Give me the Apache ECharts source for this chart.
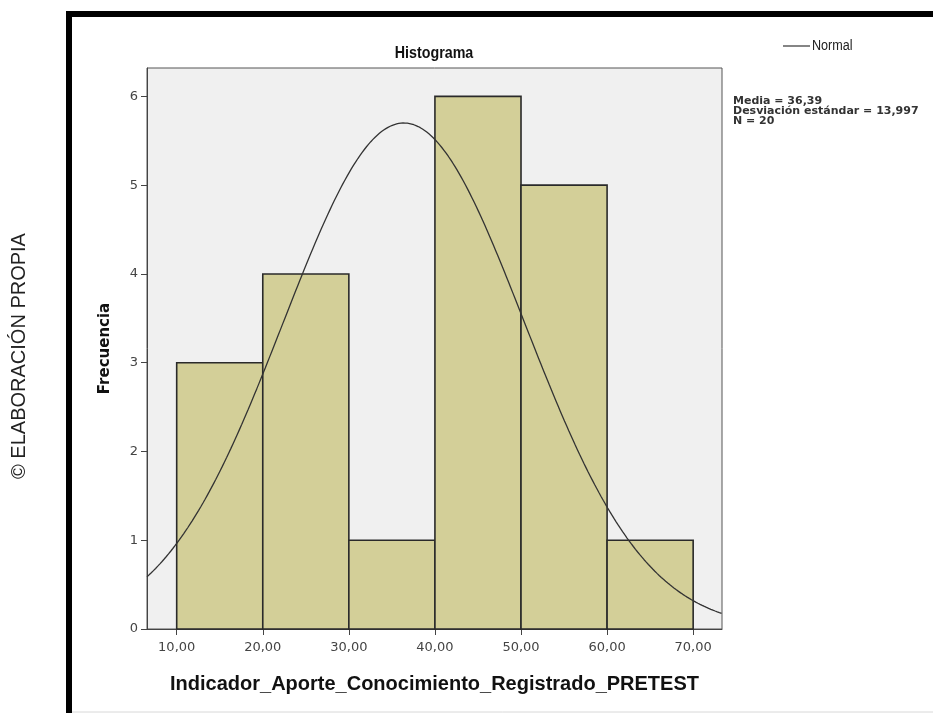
<!DOCTYPE html>
<html>
<head>
<meta charset="utf-8">
<script src="https://cdn.jsdelivr.net/npm/echarts@6/dist/echarts.min.js"></script>
<style>
  html, body { margin: 0; padding: 0; background: #ffffff; }
  #chart { width: 933px; height: 713px; }
</style>
</head>
<body>
<div id="chart"></div>
<script>
// Histogram bins (lower/upper edges) and their frequencies
const binStarts = [10, 20, 30, 40, 50, 60];
const binEnds   = [20, 30, 40, 50, 60, 70];
const binCounts = [3, 4, 1, 6, 5, 1];

// Tick values shown on each axis
const xTickValues = [10, 20, 30, 40, 50, 60, 70];
const yTickValues = [0, 1, 2, 3, 4, 5, 6];

// Summary statistics printed beside the plot
const sampleMean = 36.39;
const sampleSd = 13.997;
const sampleN = 20;
const binWidth = 10;

const xMin = 6.55, xMax = 73.35;
const yMin = 0, yMax = 6.32;

// Fitted normal curve, scaled to frequency counts per bin
const curveX = [];
for (let x = xMin; x <= xMax + 1e-9; x += 0.25) curveX.push(+x.toFixed(2));
const curveData = curveX.map(x => {
  const z = (x - sampleMean) / sampleSd;
  const y = sampleN * binWidth / (sampleSd * Math.sqrt(2 * Math.PI)) * Math.exp(-0.5 * z * z);
  return [x, y];
});

const barData = binStarts.map((s, i) => [s, binEnds[i], binCounts[i]]);

const fmt = v => v.toFixed(2).replace('.', ',');

const chart = echarts.init(document.getElementById('chart'), null, { renderer: 'canvas' });

chart.setOption({
  animation: false,
  backgroundColor: '#ffffff',
  grid: {
    left: 147, top: 68, right: 211, bottom: 84,
    show: true, backgroundColor: '#f0f0f0', borderColor: '#555', borderWidth: 1
  },
  xAxis: {
    type: 'value', min: xMin, max: xMax,
    name: 'Indicador_Aporte_Conocimiento_Registrado_PRETEST',
    nameLocation: 'middle', nameGap: 45,
    nameTextStyle: { fontFamily: 'Liberation Sans', fontSize: 20, fontWeight: 'bold', color: '#111' },
    axisLine: { show: true, lineStyle: { color: '#444', width: 1 } },
    axisTick: { show: true, length: 6, customValues: xTickValues, lineStyle: { color: '#444' } },
    axisLabel: {
      customValues: xTickValues, margin: 12, formatter: v => fmt(v),
      fontFamily: 'DejaVu Sans', fontSize: 13, color: '#444'
    },
    splitLine: { show: false }
  },
  yAxis: {
    type: 'value', min: yMin, max: yMax,
    name: 'Frecuencia', nameLocation: 'middle', nameGap: 34,
    nameTextStyle: { fontFamily: 'DejaVu Sans', fontSize: 15, fontWeight: 'bold', color: '#111' },
    axisLine: { show: true, lineStyle: { color: '#444', width: 1 } },
    axisTick: { show: true, length: 6, customValues: yTickValues, lineStyle: { color: '#444' } },
    axisLabel: {
      customValues: yTickValues, margin: 9,
      fontFamily: 'DejaVu Sans', fontSize: 13, color: '#444'
    },
    splitLine: { show: false }
  },
  series: [
    {
      type: 'custom',
      data: barData,
      renderItem: (params, api) => {
        const p0 = api.coord([api.value(0), 0]);
        const p1 = api.coord([api.value(1), api.value(2)]);
        return {
          type: 'rect',
          shape: { x: p0[0], y: p1[1], width: p1[0] - p0[0], height: p0[1] - p1[1] },
          style: { fill: '#d3cf98', stroke: '#2a2a2a', lineWidth: 1.6 }
        };
      },
      z: 2
    },
    {
      type: 'line',
      data: curveData,
      showSymbol: false,
      smooth: false,
      clip: true,
      lineStyle: { color: '#333', width: 1.3 },
      z: 3
    }
  ],
  graphic: [
    // outer frame (top and left)
    { type: 'rect', shape: { x: 66, y: 11, width: 867, height: 6 }, style: { fill: '#000' } },
    { type: 'rect', shape: { x: 66, y: 11, width: 6, height: 702 }, style: { fill: '#000' } },
    { type: 'line', shape: { x1: 72, y1: 712, x2: 933, y2: 712 }, style: { stroke: '#d8d8d8', lineWidth: 1 } },
    // chart title
    {
      type: 'text', x: 434, y: 53, scaleX: 0.84,
      style: {
        text: 'Histograma', fontFamily: 'Liberation Sans', fontSize: 17, fontWeight: 'bold',
        fill: '#111', align: 'center', verticalAlign: 'middle'
      }
    },
    // side caption
    {
      type: 'text', x: 19, y: 356, rotation: Math.PI / 2,
      style: {
        text: '© ELABORACIÓN PROPIA', fontFamily: 'Liberation Sans', fontSize: 20,
        fill: '#222', align: 'center', verticalAlign: 'middle'
      }
    },
    // legend
    { type: 'line', shape: { x1: 783, y1: 46, x2: 810, y2: 46 }, style: { stroke: '#333', lineWidth: 1.2 } },
    {
      type: 'text', x: 812, y: 46, scaleX: 0.9,
      style: {
        text: 'Normal', fontFamily: 'Liberation Sans', fontSize: 14,
        fill: '#222', verticalAlign: 'middle'
      }
    },
    // statistics block
    {
      type: 'text', x: 733, y: 96,
      style: {
        text: 'Media = ' + fmt(sampleMean) + '\nDesviación estándar = ' +
              sampleSd.toFixed(3).replace('.', ',') + '\nN = ' + sampleN,
        fontFamily: 'DejaVu Sans', fontSize: 11, fontWeight: 'bold', lineHeight: 10, fill: '#333'
      }
    }
  ]
});
</script>
</body>
</html>
